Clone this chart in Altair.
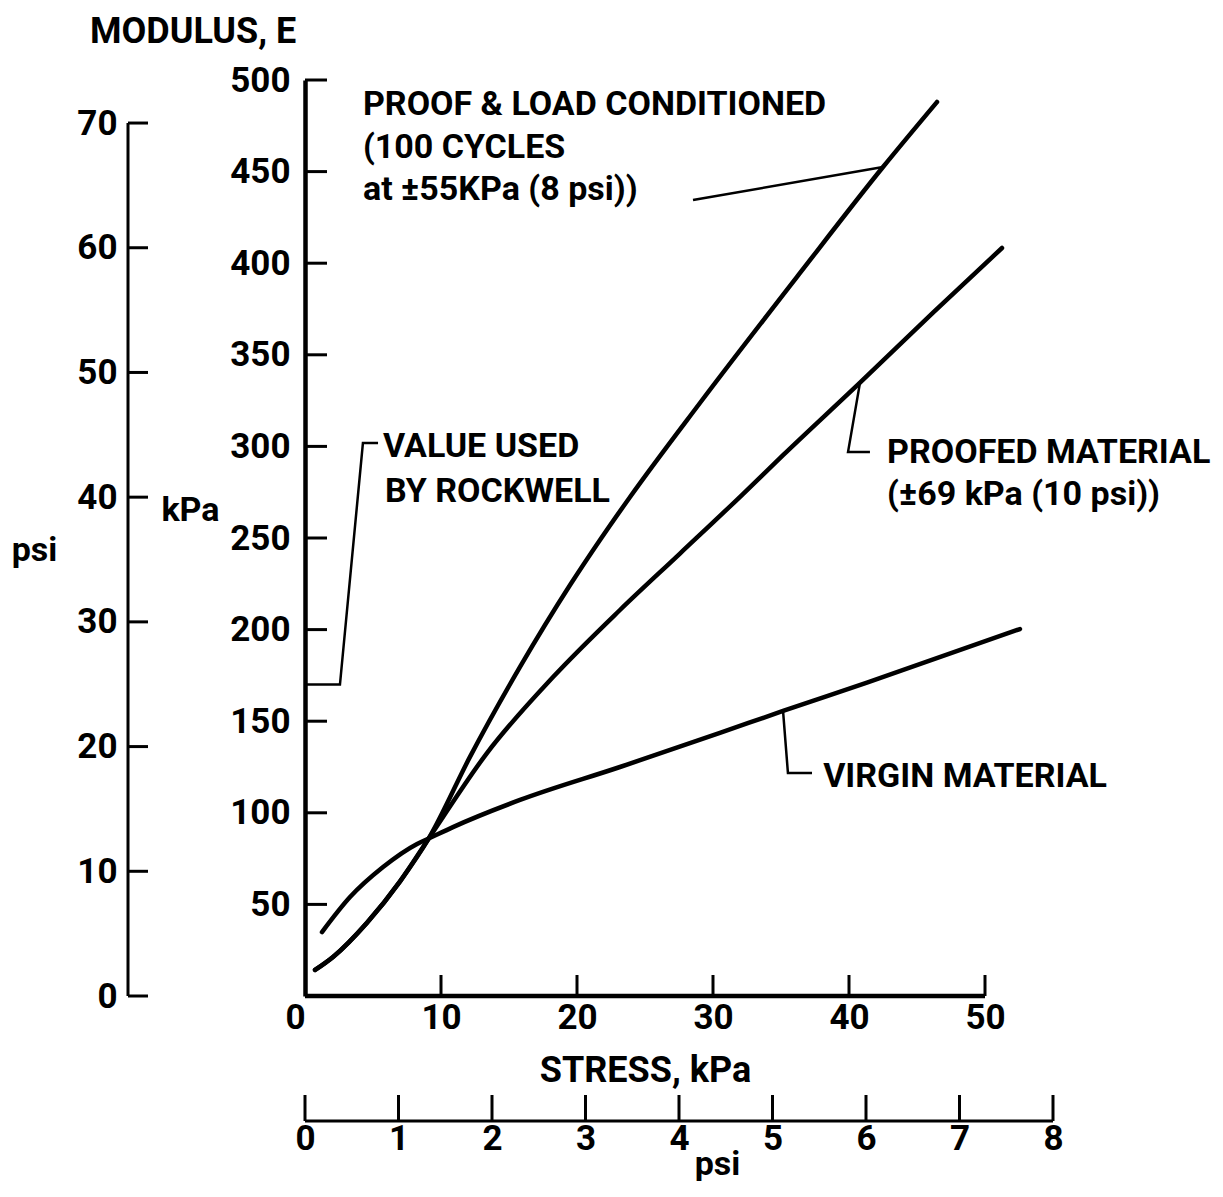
import altair as alt
import pandas as pd

FONT = "Roboto"
FS_TICK = 35
FS_TEXT = 34
FS_TITLE = 36

# ---------------- data (kPa units) ----------------
series_names = ["PROOF & LOAD CONDITIONED", "PROOFED MATERIAL", "VIRGIN MATERIAL"]

pl_stress = [0.74, 2.06, 4.56, 6.99, 9.1, 12.13, 15.81, 19.49, 21.69, 23.90, 29.04, 36.40, 42.50, 46.47]
pl_modulus = [14.2, 21.3, 40.0, 62.6, 86.0, 130.5, 179.6, 224.3, 248.9, 272.4, 323.7, 394.7, 452.5, 488.0]

pr_stress = [0.74, 2.06, 4.56, 6.99, 9.1, 13.38, 18.24, 23.16, 27.57, 31.99, 35.15, 40.81, 46.18, 51.25]
pr_modulus = [14.2, 21.3, 40.0, 62.6, 86.0, 132.6, 174.1, 210.7, 241.5, 272.5, 295.2, 334.8, 373.0, 408.3]

vi_stress = [1.25, 3.31, 5.74, 8.24, 9.1, 10.88, 15.81, 23.16, 30.51, 35.15, 41.32, 52.57]
vi_modulus = [34.9, 54.0, 70.4, 83.0, 86.0, 92.2, 107.0, 125.0, 143.6, 155.6, 171.0, 200.3]

x_ticks_kpa = [0, 10, 20, 30, 40, 50]
y_ticks_kpa = [50, 100, 150, 200, 250, 300, 350, 400, 450, 500]
y_ticks_psi = [0, 10, 20, 30, 40, 50, 60, 70]
x_ticks_psi = [0, 1, 2, 3, 4, 5, 6, 7, 8]

# leader lines (stress, modulus)
leader_ids = ["rockwell", "rockwell", "rockwell", "rockwell",
              "pl", "pl",
              "proofed", "proofed", "proofed",
              "virgin", "virgin", "virgin"]
leader_stress = [0.0, 2.57, 4.26, 5.37,
                 28.53, 42.50,
                 40.81, 39.93, 41.54,
                 35.15, 35.51, 37.28]
leader_modulus = [170.0, 170.0, 301.9, 301.9,
                  434.5, 452.5,
                  334.8, 297.0, 297.0,
                  155.6, 121.7, 121.7]

note_texts = ["PROOF & LOAD CONDITIONED", "(100 CYCLES", "at \u00b155KPa (8 psi))",
              "VALUE USED", "BY ROCKWELL",
              "PROOFED MATERIAL", "(\u00b169 kPa (10 psi))",
              "VIRGIN MATERIAL"]
note_stress = [4.26, 4.26, 4.26, 5.74, 5.88, 42.8, 42.8, 38.1]
note_modulus = [486.4, 462.9, 440.0, 299.7, 275.1, 296.4, 273.5, 119.5]

# ---------------- frames ----------------
rows = []
for name, xs, ys in zip(series_names, [pl_stress, pr_stress, vi_stress], [pl_modulus, pr_modulus, vi_modulus]):
    for i, (a, b) in enumerate(zip(xs, ys)):
        rows.append({"series": name, "order": i, "stress": a, "modulus": b})
curves_df = pd.DataFrame(rows)

leader_df = pd.DataFrame({"leader": leader_ids, "stress": leader_stress, "modulus": leader_modulus})
leader_df["order"] = range(len(leader_df))
notes_df = pd.DataFrame({"text": note_texts, "stress": note_stress, "modulus": note_modulus})

W, H = 760, 916
PX_PER_KPA_X = 13.6
PX_PER_PSI_X = 93.5
PX_PER_PSI_Y = 12.471

def xs_main():
    return alt.Scale(domain=[0, W / PX_PER_KPA_X], nice=False, zero=False)

def ys_main():
    return alt.Scale(domain=[0, 500], nice=False, zero=False)

def xs_psi():
    return alt.Scale(domain=[0, W / PX_PER_PSI_X], nice=False, zero=False)

def ys_psi():
    return alt.Scale(domain=[0, H / PX_PER_PSI_Y], nice=False, zero=False)

x_axis = alt.Axis(orient="bottom", values=x_ticks_kpa, ticks=False, domain=False, grid=False, labelFlush=False,
                  labelAlign=alt.condition("datum.value == 0", alt.value("right"), alt.value("center")),
                  labelPadding=4, labelFontSize=FS_TICK,
                  title="STRESS, kPa", titleX=340, titleY=74, titleAlign="center",
                  titleBaseline="middle", titleFontSize=FS_TITLE)
y_axis = alt.Axis(orient="left", values=y_ticks_kpa, ticks=False, domain=True, domainWidth=4.5, domainColor="black",
                  grid=False, labelPadding=15, labelFontSize=FS_TICK,
                  title="kPa", titleAngle=0, titleX=-115, titleY=430, titleAlign="center",
                  titleBaseline="middle", titleFontSize=FS_TEXT)

curves = alt.Chart(curves_df).mark_line(
    color="black", strokeWidth=4.5, interpolate="monotone", strokeCap="round", strokeJoin="round"
).encode(
    x=alt.X("stress:Q", scale=xs_main(), axis=x_axis),
    y=alt.Y("modulus:Q", scale=ys_main(), axis=y_axis),
    detail="series:N",
    order="order:Q",
)

xticks = alt.Chart(pd.DataFrame({"stress": x_ticks_kpa[1:]})).mark_rule(color="black", strokeWidth=3).encode(
    x=alt.X("stress:Q", scale=xs_main(), axis=None), y=alt.value(H), y2=alt.value(H - 21))
yticks = alt.Chart(pd.DataFrame({"modulus": y_ticks_kpa})).mark_rule(color="black", strokeWidth=3).encode(
    y=alt.Y("modulus:Q", scale=ys_main(), axis=None), x=alt.value(0), x2=alt.value(22))
xdomain = alt.Chart(pd.DataFrame({"s0": [0], "s1": [x_ticks_kpa[-1]]})).mark_rule(color="black", strokeWidth=4.5).encode(
    x=alt.X("s0:Q", scale=xs_main(), axis=None), x2="s1:Q", y=alt.value(H))

leaders = alt.Chart(leader_df).mark_line(color="black", strokeWidth=2.5).encode(
    x=alt.X("stress:Q", scale=xs_main(), axis=None),
    y=alt.Y("modulus:Q", scale=ys_main(), axis=None),
    detail="leader:N", order="order:Q")

notes = alt.Chart(notes_df).mark_text(align="left", baseline="middle", font=FONT, fontSize=FS_TEXT,
                                      fontWeight="bold", color="black").encode(
    x=alt.X("stress:Q", scale=xs_main(), axis=None),
    y=alt.Y("modulus:Q", scale=ys_main(), axis=None),
    text="text:N")

ylabel = alt.Chart(pd.DataFrame({"t": ["MODULUS, E"]})).mark_text(
    align="left", baseline="middle", font=FONT, fontSize=FS_TITLE, fontWeight="bold", color="black"
).encode(x=alt.value(-215), y=alt.value(-48), text="t:N")

# ---------------- psi axes ----------------
psi_left_axis = alt.Axis(orient="left", offset=177, values=y_ticks_psi, ticks=False, domain=False, grid=False,
                         labelPadding=11, labelFontSize=FS_TICK,
                         title="psi", titleAngle=0, titleX=-94, titleY=470, titleAlign="center",
                         titleBaseline="middle", titleFontSize=FS_TEXT)
psi_bottom_axis = alt.Axis(orient="bottom", offset=125, values=x_ticks_psi, ticks=False, domain=False, grid=False,
                           labelFlush=False, labelPadding=0, labelFontSize=FS_TICK,
                           title="psi", titleX=412, titleY=53, titleAlign="center",
                           titleBaseline="alphabetic", titleFontSize=FS_TEXT)

left_ticks = alt.Chart(pd.DataFrame({"psi": y_ticks_psi})).mark_rule(color="black", strokeWidth=3).encode(
    y=alt.Y("psi:Q", scale=ys_psi(), axis=psi_left_axis), x=alt.value(-177), x2=alt.value(-157))
left_domain = alt.Chart(pd.DataFrame({"p0": [0], "p1": [y_ticks_psi[-1]]})).mark_rule(color="black", strokeWidth=3).encode(
    y=alt.Y("p0:Q", scale=ys_psi(), axis=None), y2="p1:Q", x=alt.value(-177))
bottom_ticks = alt.Chart(pd.DataFrame({"psix": x_ticks_psi})).mark_rule(color="black", strokeWidth=3).encode(
    x=alt.X("psix:Q", scale=xs_psi(), axis=psi_bottom_axis), y=alt.value(H + 125), y2=alt.value(H + 99))
bottom_domain = alt.Chart(pd.DataFrame({"q0": [0], "q1": [x_ticks_psi[-1]]})).mark_rule(color="black", strokeWidth=3).encode(
    x=alt.X("q0:Q", scale=xs_psi(), axis=None), x2="q1:Q", y=alt.value(H + 125))

chart = alt.layer(
    curves, xticks, yticks, xdomain, leaders, notes, ylabel,
    left_ticks, left_domain, bottom_ticks, bottom_domain,
).resolve_scale(x="independent", y="independent").properties(
    width=W, height=H,
    autosize=alt.AutoSizeParams(type="none"),
    padding={"left": 297, "top": 72, "right": 150, "bottom": 185},
    background="white",
).configure_view(stroke=None).configure_axis(
    labelFont=FONT, labelFontWeight="bold", labelColor="black",
    titleFont=FONT, titleFontWeight="bold", titleColor="black",
)

chart.save("out.html", embed_options={"renderer": "svg", "actions": False})
